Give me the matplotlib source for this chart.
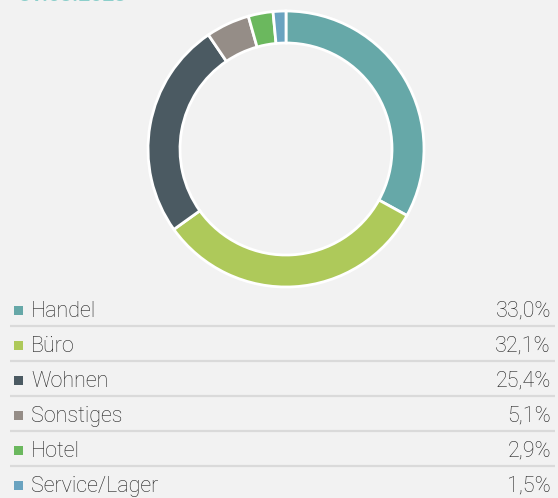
import matplotlib.pyplot as plt
from matplotlib.patches import Rectangle

# Nutzungsarten und Anteile in %
categories = ["Handel", "Büro", "Wohnen", "Sonstiges", "Hotel", "Service/Lager"]
shares = [33.0, 32.1, 25.4, 5.1, 2.9, 1.5]
share_labels = ["33,0%", "32,1%", "25,4%", "5,1%", "2,9%", "1,5%"]
colors = ["#66a8a8", "#aec95a", "#4b5a62", "#958d87", "#6bb85e", "#6aa3c0"]
title = "31.03.2023"

W, H = 558, 498
bg = "#f2f2f2"
plt.rcParams['font.family'] = ['Roboto', 'DejaVu Sans']

fig = plt.figure(figsize=(W / 100, H / 100), dpi=100, facecolor=bg)

# Tabelle in Pixelkoordinaten
ax = fig.add_axes([0, 0, 1, 1])
ax.set_xlim(0, W)
ax.set_ylim(H, 0)
ax.axis("off")
ax.set_facecolor(bg)

ax.text(18, 1, title, color="#8ccfcb", fontsize=15, va="baseline", ha="left",
        fontweight="bold")

row_y0, row_h = 311, 35
for i, (cat, lab, c) in enumerate(zip(categories, share_labels, colors)):
    y = row_y0 + i * row_h
    ax.add_patch(Rectangle((14, y - 5), 9, 9, color=c, lw=0))
    ax.text(31, y, cat, fontsize=15.5, color="#222222", va="center", ha="left",
            fontweight="light")
    ax.text(551, y, lab, fontsize=15.5, color="#222222", va="center", ha="right",
            fontweight="light")
    if i < len(categories) - 1:
        ax.plot([10, 555], [y + 15, y + 15], color="#dadada", lw=1.6,
                solid_capstyle="butt")

# Ring
cx, cy, r = 286, 149, 138
pax = fig.add_axes([(cx - r) / W, (H - cy - r) / H, 2 * r / W, 2 * r / H])
pax.pie(shares, colors=colors, startangle=90, counterclock=False,
        wedgeprops=dict(width=32 / r, edgecolor="white", linewidth=2))
pax.set_xlim(-1.0, 1.0)
pax.set_ylim(-1.0, 1.0)
pax.set_aspect("equal")
pax.axis("off")

fig.savefig("out.png", dpi=100, facecolor=bg)
